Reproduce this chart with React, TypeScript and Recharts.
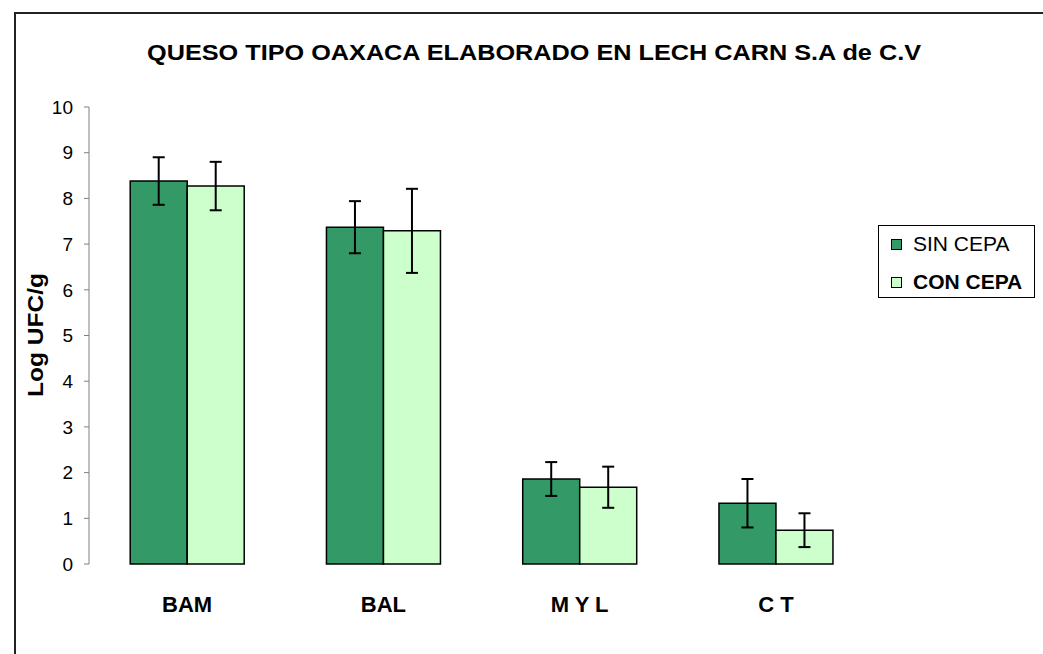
import { BarChart, Bar, XAxis, YAxis, ErrorBar, Legend, Label } from 'recharts';

const categories = ['BAM', 'BAL', 'M Y L', 'C T'];
const sinCepa = [8.38, 7.37, 1.86, 1.33];
const sinCepaErr = [0.52, 0.57, 0.37, 0.53];
const conCepa = [8.27, 7.29, 1.68, 0.74];
const conCepaErr = [0.53, 0.92, 0.45, 0.37];
const yTicks = [0, 1, 2, 3, 4, 5, 6, 7, 8, 9, 10];
const edgeTicks = [0, 1, 2, 3, 4];
const seriesOrder = ['SIN CEPA', 'CON CEPA'];

const data = categories.map((name, i) => ({
  name,
  sin: sinCepa[i],
  sinErr: sinCepaErr[i],
  con: conCepa[i],
  conErr: conCepaErr[i],
}));

const FONT = '"Liberation Sans", Arial, sans-serif';

function LegendBox({ payload }: any) {
  const items = [...(payload || [])].sort(
    (a: any, b: any) => seriesOrder.indexOf(a.value) - seriesOrder.indexOf(b.value)
  );
  return (
    <div
      style={{
        width: 157,
        height: 73,
        boxSizing: 'border-box',
        border: '1px solid #000',
        background: '#fff',
        fontFamily: FONT,
        fontSize: 21,
        color: '#000',
        position: 'relative',
      }}
    >
      {items.map((p: any, i: number) => (
        <div
          key={p.value}
          style={{
            position: 'absolute',
            left: 12,
            top: i === 0 ? 5 : 43,
            height: 26,
            lineHeight: '26px',
            display: 'flex',
            alignItems: 'center',
            whiteSpace: 'nowrap',
            fontWeight: i === 1 ? 'bold' : 'normal',
          }}
        >
          <span
            style={{
              width: 9,
              height: 9,
              background: p.color,
              border: '1px solid #000',
              marginRight: 11,
              display: 'inline-block',
            }}
          />
          {p.value}
        </div>
      ))}
    </div>
  );
}

export default function App() {
  return (
    <div
      style={{
        position: 'fixed',
        left: 0,
        top: 0,
        width: 1043,
        height: 654,
        overflow: 'hidden',
        background: '#fff',
      }}
    >
      <div
        style={{
          position: 'absolute',
          left: 14,
          top: 12,
          width: 1100,
          height: 700,
          border: '2px solid #222',
          boxSizing: 'border-box',
        }}
      />
      <svg style={{ position: 'absolute', left: 0, top: 0 }} width={1043} height={100}>
        <text
          x={534}
          y={60}
          textAnchor="middle"
          fontFamily={FONT}
          fontWeight="bold"
          fontSize={22}
          textLength={774}
          lengthAdjust="spacingAndGlyphs"
          fill="#000"
        >
          QUESO TIPO OAXACA ELABORADO EN LECH CARN S.A de C.V
        </text>
      </svg>
      <BarChart
        width={1043}
        height={654}
        data={data}
        margin={{ top: 107, right: 169, left: 29, bottom: 30 }}
        barCategoryGap="21%"
        barGap={0}
        style={{ position: 'absolute', left: 0, top: 0 }}
      >
        <XAxis
          xAxisId="edges"
          type="number"
          domain={[0, 4]}
          ticks={edgeTicks}
          tick={false}
          tickSize={9}
          height={0}
          axisLine={{ stroke: '#808080' }}
          tickLine={{ stroke: '#808080' }}
        />
        <XAxis
          xAxisId="cat"
          dataKey="name"
          axisLine={false}
          tickLine={false}
          tickSize={0}
          tickMargin={32}
          height={60}
          interval={0}
          tick={{ fill: '#000', fontSize: 22, fontWeight: 'bold', fontFamily: FONT }}
        />
        <YAxis
          domain={[0, 10]}
          ticks={yTicks}
          interval={0}
          width={60}
          tickSize={5}
          tickMargin={11}
          axisLine={{ stroke: '#808080' }}
          tickLine={{ stroke: '#808080' }}
          tick={{ fill: '#000', fontSize: 19, fontFamily: FONT }}
        >
          <Label
            content={() => (
              <text
                x={43}
                y={335}
                transform="rotate(-90, 43, 335)"
                textAnchor="middle"
                fontFamily={FONT}
                fontWeight="bold"
                fontSize={22}
                textLength={124}
                lengthAdjust="spacingAndGlyphs"
                fill="#000"
              >
                Log UFC/g
              </text>
            )}
          />
        </YAxis>
        <Legend
          layout="vertical"
          align="center"
          verticalAlign="middle"
          itemSorter={null as any}
          content={<LegendBox />}
          wrapperStyle={{ left: 878, top: 225, width: 157 }}
        />
        <Bar
          xAxisId="cat"
          dataKey="sin"
          name="SIN CEPA"
          fill="#339966"
          stroke="#000"
          strokeWidth={1.5}
          isAnimationActive={false}
        >
          <ErrorBar dataKey="sinErr" width={6} stroke="#000" strokeWidth={2} />
        </Bar>
        <Bar
          xAxisId="cat"
          dataKey="con"
          name="CON CEPA"
          fill="#CCFFCC"
          stroke="#000"
          strokeWidth={1.5}
          isAnimationActive={false}
        >
          <ErrorBar dataKey="conErr" width={6} stroke="#000" strokeWidth={2} />
        </Bar>
      </BarChart>
    </div>
  );
}
